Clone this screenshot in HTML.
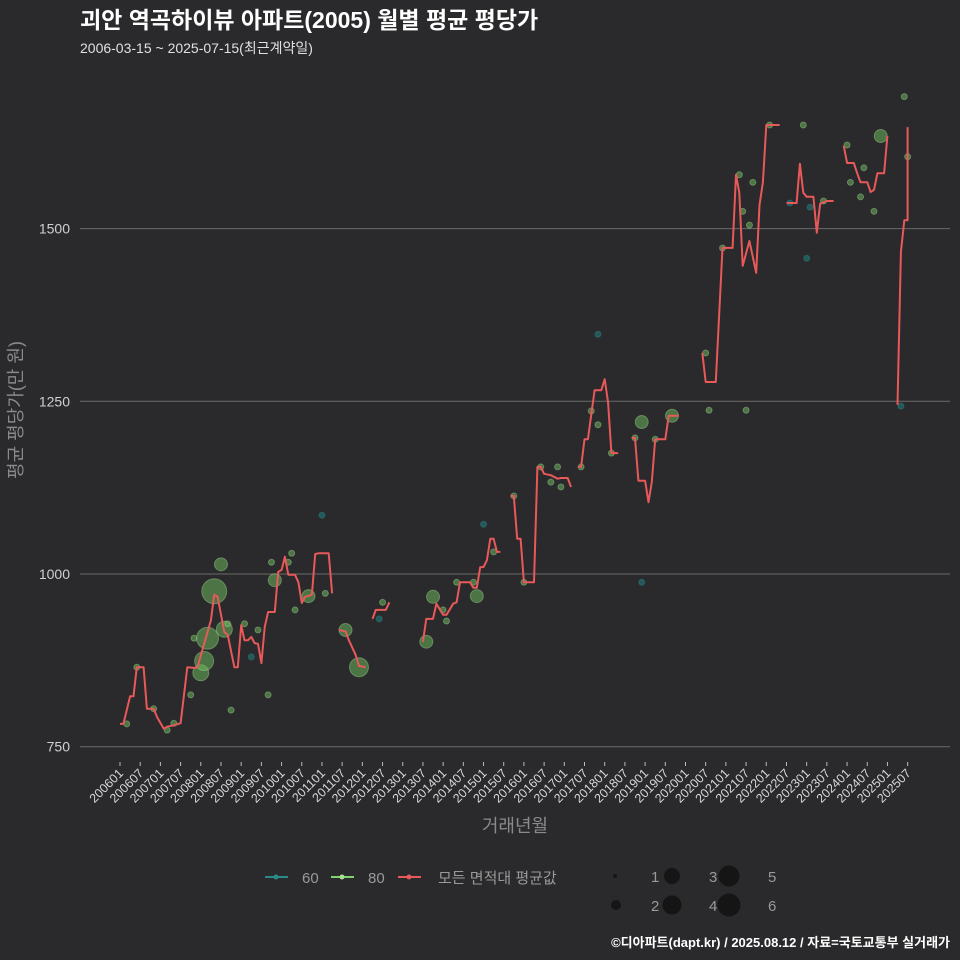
<!DOCTYPE html>
<html><head><meta charset="utf-8"><style>
body{margin:0;background:#2a292b;}
svg{display:block;font-family:"Liberation Sans","Noto Sans CJK KR",sans-serif;}
</style></head><body>
<svg id="chart" width="960" height="960" viewBox="0 0 960 960">
<rect width="960" height="960" fill="#2a292b"/>
<text x="80" y="28" fill="#ffffff" font-size="23" font-weight="bold">괴안 역곡하이뷰 아파트(2005) 월별 평균 평당가</text>
<text x="80" y="53" fill="#e0e0e0" font-size="14">2006-03-15 ~ 2025-07-15(최근계약일)</text>
<g id="grid"></g>
<g id="yticks"></g>
<g id="xticks"></g>
<g id="points"></g>
<g id="lines"></g>
<text transform="translate(22,410) rotate(-90)" text-anchor="middle" fill="#8a8a8a" font-size="18">평균 평당가(만 원)</text>
<text x="515" y="832" text-anchor="middle" fill="#8a8a8a" font-size="18">거래년월</text>
<g>
<g><line x1="265" y1="877" x2="288" y2="877" stroke="#2a8a8a" stroke-width="2"/><circle cx="276" cy="877" r="2.5" fill="#2a8a8a"/><text x="302" y="883" fill="#9a9a9a" font-size="15">60</text></g>
<g><line x1="331" y1="877" x2="354" y2="877" stroke="#7ed36e" stroke-width="2"/><circle cx="342" cy="877" r="2.5" fill="#a8e09a"/><text x="368" y="883" fill="#9a9a9a" font-size="15">80</text></g>
<g><line x1="398" y1="877" x2="421" y2="877" stroke="#e8595a" stroke-width="2"/><circle cx="409" cy="877" r="2.5" fill="#e8595a"/><text x="438" y="883" fill="#9a9a9a" font-size="15">모든 면적대 평균값</text></g>
<g>
<circle cx="615" cy="876" r="2" fill="#151515"/><text x="651" y="882" fill="#9a9a9a" font-size="15">1</text>
<circle cx="616" cy="905" r="5" fill="#151515"/><text x="651" y="911" fill="#9a9a9a" font-size="15">2</text>
<circle cx="672" cy="876" r="8" fill="#151515"/><text x="709" y="882" fill="#9a9a9a" font-size="15">3</text>
<circle cx="672" cy="905" r="9.5" fill="#151515"/><text x="709" y="911" fill="#9a9a9a" font-size="15">4</text>
<circle cx="729" cy="876" r="10.5" fill="#151515"/><text x="768" y="882" fill="#9a9a9a" font-size="15">5</text>
<circle cx="729" cy="905" r="11.5" fill="#151515"/><text x="768" y="911" fill="#9a9a9a" font-size="15">6</text>
</g></g>
<text x="950" y="947" text-anchor="end" fill="#ffffff" font-size="13" font-weight="bold">©디아파트(dapt.kr) / 2025.08.12 / 자료=국토교통부 실거래가</text>
</svg>
<script>
const yTicks=[750,1000,1250,1500];
const xTickLabels=[];
for(let y=2006;y<=2025;y++){xTickLabels.push(y+"01");xTickLabels.push(y+"07");}
// average line: month index from 200601 (null = gap)
const lineMonths=[0,1,3,4,5,7,8,10,11,13,14,16,18,20,22,23,27,28,29,31,32,34,35,36,37,38,39,40,41,42,43,44,46,47,48,49,50,52,53,54,55,57,58,59,62,63,null,
65,67,68,70,71,73,null,75,76,79,80,null,
90,91,93,94,96,97,99,100,101,104,105,106,107,108,109,110,111,112,113,null,
116,117,118,119,120,123,124,125,126,128,130,131,133,134,null,
136,137,138,139,141,143,144,145,146,148,null,
152,153,154,156,157,158,159,162,163,166,null,
173,174,177,179,182,183,184,185,187,189,190,191,192,196,null,
198,201,202,203,204,206,207,208,210,212,null,
215,216,218,219,220,222,223,224,225,227,228,null,
231,232,233,234,234];
const lineValues=[783,783,823,823,865,865,805,805,793,776,779,781,784,865,864,865,933,970,967,916,912,865,865,926,904,904,909,900,899,871,923,945,945,1003,1006,1025,999,999,988,958,967,970,1029,1030,1030,972,null,
919,917,904,883,867,865,null,935,948,948,959,null,
902,935,935,957,941,941,957,959,988,988,980,980,1010,1010,1020,1051,1051,1032,1032,null,
1113,1113,1051,1051,988,988,1155,1155,1145,1143,1138,1139,1139,1126,null,
1155,1155,1195,1195,1266,1266,1282,1248,1175,1175,null,
1197,1197,1135,1135,1104,1133,1195,1195,1229,1229,null,
1320,1278,1278,1472,1472,1578,1552,1446,1482,1436,1534,1567,1650,1650,null,
1537,1537,1594,1552,1546,1546,1494,1536,1540,1540,null,
1620,1595,1595,1580,1567,1567,1553,1556,1580,1580,1634,null,
1245,1466,1512,1512,1647];
// scatter
const ptMonths=[2,5,10,14,16,21,24,25,22,26,28,30,31,32,33,37,39,41,44,45,46,50,51,52,56,61,60,67,71,78,77,93,91,96,97,100,105,106,108,111,117,120,125,130,128,131,137,140,142,142,146,153,155,155,159,164,174,175,186,179,184,188,185,187,193,203,199,205,204,209,216,221,217,220,224,226,233,234,232];
const ptValues=[783,865,805,774,784,825,857,874,907,907,975,1014,920,928,803,928,880,919,825,1017,991,1017,1030,948,968,972,1085,919,865,959,935,967,902,948,932,988,988,968,1072,1032,1113,988,1155,1155,1133,1126,1155,1236,1216,1347,1175,1197,1220,988,1195,1229,1320,1237,1237,1472,1578,1567,1525,1505,1650,1650,1537,1531,1457,1540,1621,1588,1567,1546,1525,1634,1691,1604,1243];
const ptSizes=[1,1,1,1,1,1,3,4,1,5,6,2,3,1,1,1,1,1,1,1,2,1,1,1,2,1,1,2,4,1,1,2,2,1,1,1,1,2,1,1,1,1,1,1,1,1,1,1,1,1,1,1,2,1,1,2,1,1,1,1,1,1,1,1,1,1,1,1,1,1,1,1,1,1,1,2,1,1,1];
const ptTypes=[80,80,80,80,80,80,80,80,80,80,80,80,80,80,80,80,60,80,80,80,80,80,80,80,80,80,60,80,80,80,60,80,80,80,80,80,80,80,60,80,80,80,80,80,80,80,80,80,80,60,80,80,80,60,80,80,80,80,80,80,80,80,80,80,80,80,60,60,60,80,80,80,80,80,80,80,80,80,60];
const sizeRadius=[0,3,6.5,8,9.5,11,12.5];

const NS="http://www.w3.org/2000/svg";
const X0=80,X1=950;
function xScale(m){return 120+m*3.366;}
function yScale(v){return 574-(v-1000)*172.7/250;}
function mk(tag,attrs,parent){const e=document.createElementNS(NS,tag);for(const k in attrs)e.setAttribute(k,attrs[k]);parent.appendChild(e);return e;}

const grid=document.getElementById('grid'),yt=document.getElementById('yticks'),xt=document.getElementById('xticks');
yTicks.forEach(v=>{
 const l=mk('line',{x1:X0,x2:X1,y1:yScale(v),y2:yScale(v),stroke:'#6a6a6a','stroke-width':1},grid);
 
 
 const t=mk('text',{x:70,y:yScale(v)+5,'text-anchor':'end',fill:'#d0d0d0','font-size':14},yt);
 t.textContent=v;
 
 
});
xTickLabels.forEach((lab,i)=>{
 const x=xScale(i*6);
 const tk=mk('line',{x1:x,x2:x,y1:762,y2:766,stroke:'#bbb','stroke-width':1},xt);
 
 
 const t=mk('text',{transform:`translate(${x+4},774) rotate(-45)`,'text-anchor':'end',fill:'#d8d8d8','font-size':12.5},xt);
 t.textContent=lab;
 
 
});
const pts=document.getElementById('points');
ptMonths.forEach((m,i)=>{
 const is60=ptTypes[i]===60;
 const c=mk('circle',{cx:xScale(m),cy:yScale(ptValues[i]),r:sizeRadius[ptSizes[i]],
  fill:is60?'#1f7a7a':'#6fbf5f','fill-opacity':is60?0.6:0.5,stroke:is60?'#2a9090':'#a8e09a','stroke-opacity':0.4,'stroke-width':1},pts);
 
 
});
const lg=document.getElementById('lines');
let seg=[];
function flush(){if(seg.length>1){const p=mk('polyline',{points:seg.join(' '),fill:'none',stroke:'#e8595a','stroke-width':2,'stroke-linejoin':'round'},lg);
 
 }seg=[];}
lineMonths.forEach((m,i)=>{if(m===null||lineValues[i]===null){flush();return;}seg.push(xScale(m).toFixed(1)+','+yScale(lineValues[i]).toFixed(1));});
flush();
</script>
</body></html>
